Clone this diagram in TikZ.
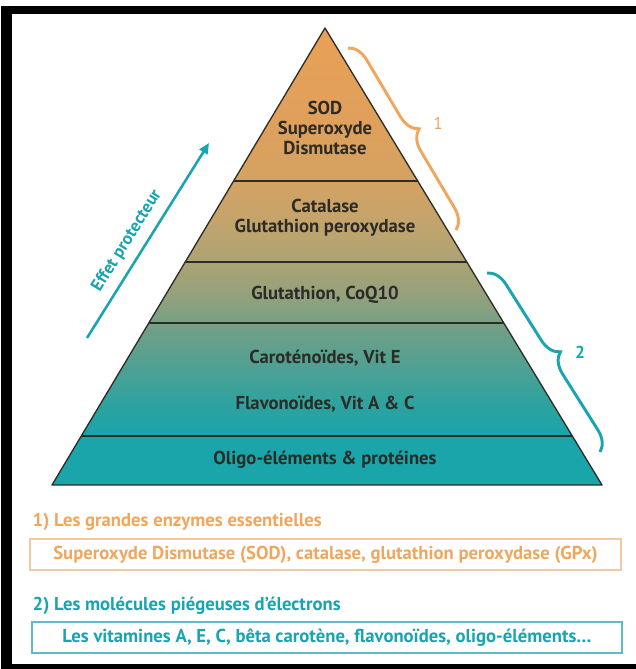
\documentclass[tikz,border=0pt]{standalone}
\usepackage{fontspec}
\setmainfont{PT Sans}
\usetikzlibrary{arrows.meta,positioning,calc,decorations.pathreplacing}
\definecolor{porange}{RGB}{240,166,92}
\definecolor{plorange}{RGB}{246,200,160}
\definecolor{pteal}{RGB}{24,164,176}
\definecolor{plteal}{RGB}{96,188,196}
\definecolor{pline}{RGB}{45,45,40}
\definecolor{ptext}{RGB}{45,43,38}
% pyramid shading stops, bottom to top
\definecolor{pc0}{RGB}{25,165,170}
\definecolor{pc1}{RGB}{45,162,160}
\definecolor{pc2}{RGB}{85,160,145}
\definecolor{pc3}{RGB}{112,160,135}
\definecolor{pc4}{RGB}{148,161,124}
\definecolor{pc5}{RGB}{172,163,116}
\definecolor{pc6}{RGB}{196,164,108}
\definecolor{pc7}{RGB}{212,162,98}
\definecolor{pc8}{RGB}{222,160,92}
\definecolor{pc9}{RGB}{234,160,86}
\pgfdeclareverticalshading{pyrshade}{100bp}{color(0bp)=(pc0); color(25bp)=(pc0);
  color(28.8bp)=(pc1); color(34.3bp)=(pc2); color(38bp)=(pc3); color(42.3bp)=(pc4);
  color(46.3bp)=(pc5); color(51.5bp)=(pc6); color(56.4bp)=(pc7); color(62.5bp)=(pc8);
  color(75bp)=(pc9); color(100bp)=(pc9)}

\begin{document}
\begin{tikzpicture}[x=0.75pt, y=-0.75pt,
    layer/.style={font=\bfseries\fontsize{14}{15.3}\selectfont, text=ptext, align=center},
    legend/.style={font=\bfseries\fontsize{14}{15}\selectfont},
    legbox/.style={draw, line width=1.5pt, minimum width=443pt, minimum height=23pt,
                   inner sep=0pt, font=\bfseries\fontsize{14}{15}\selectfont},
    sep/.style={pline, line width=1.5pt},
    arr/.style={-{Triangle[length=8pt, width=7pt]}, line width=1.9pt, pteal},
    bracket/.style={decorate, decoration={brace, amplitude=15pt, aspect=0.5}, line width=2.2pt}
]
\useasboundingbox (0,0) rectangle (636,669);

% Frame
\fill[black] (1,6) rectangle (636,14);
\fill[black] (1,6) rectangle (12,669);
\fill[black] (1,664) rectangle (636,669);

% Pyramid
\coordinate (apex) at (325,28);
\coordinate (baseL) at (52,485);
\coordinate (baseR) at (602,485);
\shade[shading=pyrshade]
    (apex) -- ($(apex)!0.893!(baseL)$) -- ($(apex)!0.893!(baseR)$) -- cycle;
\fill[pc0] ($(apex)!0.893!(baseL)$) -- (baseL) -- (baseR) -- ($(apex)!0.893!(baseR)$) -- cycle;
\foreach \f in {0.335,0.512,0.645,0.893}
    \draw[sep] ($(apex)!\f!(baseL)$) -- ($(apex)!\f!(baseR)$);
\draw[pline, line width=1pt, line join=round] (apex) -- (baseL) -- (baseR) -- cycle;

% Layers
\node[layer] (sod) at (325,128) {SOD\\Superoxyde\\Dismutase};
\node[layer] (catalase) at (325,218) {Catalase\\Glutathion peroxydase};
\node[layer] (gsh) at (325,295) {Glutathion, CoQ10};
\node[layer] (carot) at (325,358) {Caroténoïdes, Vit E};
\node[layer] (flavo) at (325,404) {Flavonoïdes, Vit A \& C};
\node[layer] (oligo) at (325,460) {Oligo-éléments \& protéines};

% Effet protecteur
\coordinate (arrtail) at (87,338);
\coordinate (arrhead) at (209,143);
\draw[arr] (arrtail) -- (arrhead)
    node[pos=0.45, sloped, above=3pt, font=\bfseries\fontsize{13}{14}\selectfont, text=pteal] (effet) {Effet protecteur};

% Braces
\coordinate (b1top) at (348,48);
\coordinate (b1bot) at (456,230);
\draw[bracket, porange] (b1top) -- (b1bot);
\node[text=porange, font=\fontsize{13}{14}\selectfont] (one) at (438,123) {1};
\coordinate (b2top) at (487,273);
\coordinate (b2bot) at (600,452);
\draw[bracket, pteal] (b2top) -- (b2bot);
\node[text=pteal, font=\bfseries\fontsize{13}{14}\selectfont] (two) at (580,352) {2};

% Legend
\node[legbox, draw=plorange, text=porange] (box1) at (325.5,554.5)
    {Superoxyde Dismutase (SOD), catalase, glutathion peroxydase (GPx)};
\node[legend, text=porange, anchor=west] (head1) at (28,522) {1) Les grandes enzymes essentielles};
\node[legbox, draw=plteal, text=pteal] (box2) at (327,637.5)
    {Les vitamines A, E, C, bêta carotène, flavonoïdes, oligo-éléments\dots};
\node[legend, text=pteal, anchor=west] (head2) at (28,606) {2) Les molécules piégeuses d’électrons};

\end{tikzpicture}
\end{document}
